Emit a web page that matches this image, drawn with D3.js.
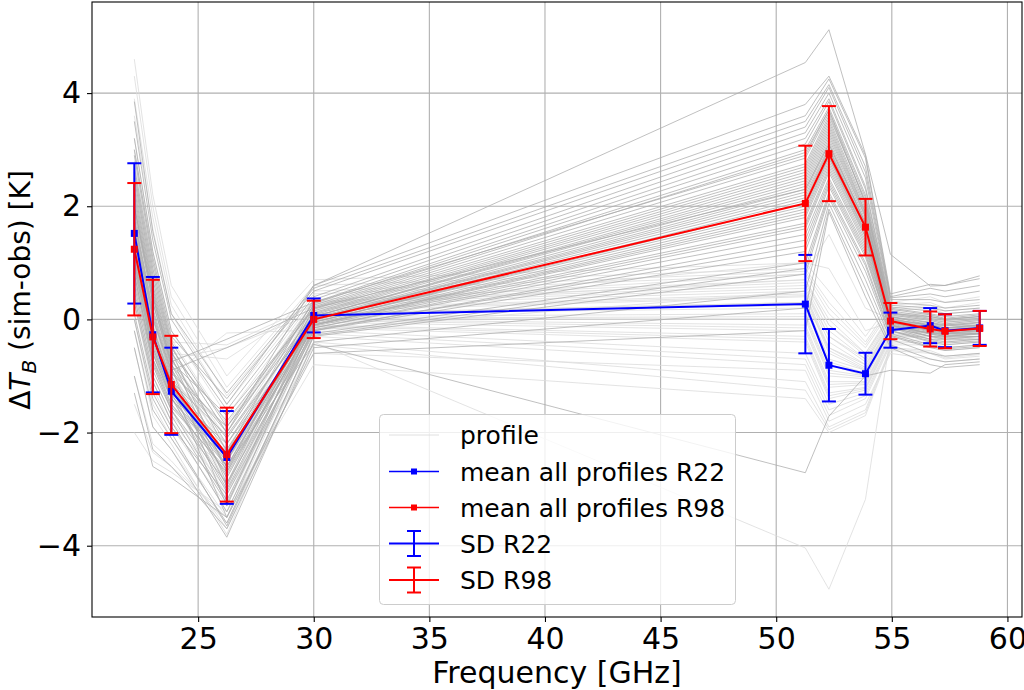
<!DOCTYPE html>
<html>
<head>
<meta charset="utf-8">
<script src="https://cdn.jsdelivr.net/npm/d3@7"></script>
<style>
    body { margin: 0; background: #fff; }
    text { font-family: "DejaVu Sans", sans-serif; }
</style>
</head>
<body>
<div id="chart"></div>
<script>
// channel frequencies [GHz]
let freqs = [22.24, 23.04, 23.84, 26.24, 30.0, 51.26, 52.28, 53.86, 54.94, 56.66, 57.3, 58.8];

// mean and SD of all profiles
let meanR22 = [1.52, -0.27, -1.27, -2.44, 0.07, 0.27, -0.81, -0.96, -0.19, -0.11, -0.2, -0.15];
let sdR22 = [1.24, 1.02, 0.77, 0.82, 0.3, 0.87, 0.64, 0.37, 0.31, 0.31, 0.29, 0.3];
let meanR98 = [1.24, -0.31, -1.15, -2.39, 0.0, 2.05, 2.93, 1.63, -0.03, -0.17, -0.21, -0.16];
let sdR98 = [1.17, 1.01, 0.86, 0.83, 0.33, 1.02, 0.84, 0.5, 0.32, 0.31, 0.3, 0.31];

// single profiles, R22 (light grey)
let profilesR22 = [
    [4.6, 2.2, 0.6, -1.0, 0.7, 1.0, 0.5, -0.3, 0.3, 0.4, 0.3, 0.4],
    [4.3, 2.0, 0.4, -1.2, 0.6, 0.9, 0.3, -0.4, 0.25, 0.3, 0.2, 0.3],
    [3.9, 1.8, 0.25, -1.35, 0.5, 0.85, 0.2, -0.45, 0.2, 0.25, 0.15, 0.2],
    [3.6, 1.6, 0.1, -1.5, 0.45, 0.8, 0.1, -0.5, 0.15, 0.2, 0.1, 0.15],
    [3.2, 1.2, -0.2, -1.7, 0.35, 0.7, 0.0, -0.6, 0.1, 0.1, 0.0, 0.05],
    [3.0, 1.05, -0.35, -1.85, 0.32, 0.65, -0.1, -0.65, 0.08, 0.08, -0.02, 0.02],
    [2.8, 0.9, -0.5, -2.0, 0.3, 0.6, -0.2, -0.7, 0.05, 0.05, -0.05, 0.0],
    [2.65, 0.8, -0.6, -2.45, 0.28, 0.55, -0.3, -0.75, 0.02, 0.02, -0.08, -0.02],
    [2.5, 0.7, -0.7, -2.1, 0.25, 0.5, -0.4, -0.8, 0.0, 0.0, -0.1, -0.05],
    [2.3, 0.5, -0.8, -2.3, 0.2, 0.45, -0.5, -0.85, -0.05, -0.05, -0.15, -0.1],
    [2.15, 0.4, -0.85, -2.95, 0.18, 0.42, -0.55, -0.88, -0.08, -0.05, -0.15, -0.1],
    [2.0, 0.3, -0.9, -2.6, 0.15, 0.4, -0.6, -0.9, -0.1, -0.05, -0.15, -0.1],
    [1.8, 0.1, -1.0, -2.2, 0.1, 0.3, -0.7, -0.9, -0.15, -0.1, -0.2, -0.15],
    [1.7, 0.0, -1.1, -2.65, 0.12, 0.25, -0.75, -0.95, -0.12, -0.08, -0.18, -0.12],
    [1.6, -0.1, -1.2, -2.8, 0.1, 0.2, -0.8, -1.0, -0.15, -0.1, -0.2, -0.15],
    [1.4, -0.3, -1.3, -2.4, 0.05, 0.1, -0.9, -1.0, -0.2, -0.15, -0.25, -0.2],
    [1.3, -0.4, -1.35, -3.2, 0.02, 0.05, -0.95, -1.02, -0.2, -0.15, -0.25, -0.2],
    [1.2, -0.5, -1.4, -2.9, 0.0, 0.0, -1.0, -1.05, -0.2, -0.15, -0.25, -0.2],
    [1.0, -0.6, -1.5, -2.5, 0.0, -0.1, -1.1, -1.1, -0.25, -0.2, -0.3, -0.25],
    [0.9, -0.7, -1.55, -2.35, -0.02, -0.15, -1.15, -1.12, -0.28, -0.2, -0.3, -0.25],
    [0.8, -0.8, -1.6, -3.1, -0.05, -0.2, -1.2, -1.15, -0.3, -0.2, -0.3, -0.25],
    [0.6, -1.0, -1.7, -2.7, -0.1, -0.3, -1.3, -1.2, -0.3, -0.25, -0.35, -0.3],
    [0.45, -1.1, -1.8, -3.4, -0.12, -0.35, -1.35, -1.22, -0.32, -0.28, -0.38, -0.32],
    [0.3, -1.2, -1.9, -3.3, -0.15, -0.4, -1.4, -1.25, -0.35, -0.3, -0.4, -0.35],
    [0.0, -1.5, -2.1, -3.5, -0.2, -0.6, -1.5, -1.3, -0.4, -0.35, -0.45, -0.4],
    [-0.2, -1.7, -2.2, -3.8, -0.25, -0.7, -1.6, -1.35, -0.42, -0.4, -0.5, -0.45],
    [-0.5, -1.9, -2.3, -3.7, -0.3, -0.8, -1.7, -1.4, -0.45, -0.45, -0.55, -0.5],
    [-1.0, -2.2, -2.5, -3.6, -0.4, -1.1, -1.9, -1.6, -0.5, -0.55, -0.65, -0.6],
    [-1.5, -2.35, -2.6, -3.5, -0.45, -1.25, -1.95, -1.65, -0.52, -0.58, -0.68, -0.62],
    [-2.0, -2.5, -2.7, -3.4, -0.8, -1.4, -2.0, -1.7, -0.55, -0.6, -0.7, -0.65],
    [1.5, -0.2, -1.2, -2.5, -0.4, -4.04, -4.77, -3.18, -0.3, -0.3, -0.35, -0.3],
    [1.0, -0.2, -1.0, -0.24, -0.19, 0.5, -0.3, -0.7, -0.1, -0.05, -0.1, -0.1],
    [0.6, -0.4, -0.7, -0.5, 0.1, 0.3, -0.5, -0.8, -0.15, -0.1, -0.15, -0.1],
    [2.6, 0.6, -0.4, -0.45, 0.25, 0.7, -0.1, -0.6, 0.05, 0.05, 0.0, 0.05],
    [2.2, 0.3, -0.6, -0.7, 0.3, 0.8, 1.5, 0.2, 0.0, 0.0, -0.05, 0.0],
    [1.9, 0.0, -1.1, -1.9, 0.2, 1.0, 0.9, -0.2, -0.05, -0.1, -0.1, -0.05],
    [0.4, -1.1, -1.8, -3.0, -0.6, -0.9, -1.8, -1.5, -0.6, -0.7, -0.75, -0.7]
];

// single profiles, R98 (dark grey)
let profilesR98 = [
    [3.85, 1.55, 0.1, -1.3, 0.55, 3.6, 4.25, 2.85, 0.4, 0.55, 0.5, 0.6],
    [3.5, 1.4, 0.0, -1.5, 0.6, 3.8, 4.3, 2.9, 0.45, 0.62, 0.6, 0.72],
    [3.2, 1.2, -0.2, -1.6, 0.4, 3.4, 4.1, 2.6, 0.35, 0.35, 0.3, 0.35],
    [3.0, 1.1, -0.3, -1.4, 0.5, 3.5, 4.15, 2.7, 0.38, 0.45, 0.4, 0.5],
    [2.9, 1.0, -0.4, -1.9, 0.3, 3.2, 3.9, 2.35, 0.25, 0.2, 0.15, 0.2],
    [2.7, 0.9, -0.45, -2.35, 0.35, 3.3, 4.0, 2.5, 0.3, 0.25, 0.2, 0.25],
    [2.6, 0.8, -0.5, -2.0, 0.25, 3.0, 3.75, 2.2, 0.2, 0.1, 0.05, 0.1],
    [2.5, 0.7, -0.55, -2.7, 0.28, 3.1, 3.85, 2.3, 0.22, 0.15, 0.1, 0.15],
    [2.4, 0.6, -0.6, -1.8, 0.2, 2.85, 3.65, 2.05, 0.15, 0.05, 0.0, 0.05],
    [2.3, 0.55, -0.65, -2.9, 0.22, 2.95, 3.7, 2.15, 0.18, 0.08, 0.02, 0.08],
    [2.2, 0.5, -0.7, -2.2, 0.15, 2.7, 3.55, 2.0, 0.1, 0.0, -0.05, 0.0],
    [2.1, 0.45, -0.75, -1.7, 0.18, 2.75, 3.6, 2.1, 0.12, 0.02, -0.02, 0.02],
    [2.0, 0.4, -0.8, -2.5, 0.1, 2.6, 3.45, 1.9, 0.05, -0.05, -0.1, -0.05],
    [2.0, 0.4, -0.75, -0.35, 0.3, 2.9, 3.7, 2.05, 0.1, 0.05, 0.0, 0.05],
    [1.9, 0.3, -0.85, -3.3, 0.12, 2.65, 3.5, 1.95, 0.08, -0.02, -0.08, -0.02],
    [1.8, 0.2, -0.9, -2.1, 0.05, 2.5, 3.35, 1.85, 0.05, -0.1, -0.1, -0.1],
    [1.75, 0.15, -0.95, -1.9, 0.08, 2.55, 3.4, 1.88, 0.04, -0.06, -0.12, -0.06],
    [1.7, 0.1, -1.0, -2.6, 0.05, 2.4, 3.25, 1.8, 0.0, -0.1, -0.15, -0.1],
    [1.6, 0.05, -1.05, -2.95, 0.05, 2.45, 3.3, 1.82, 0.02, -0.12, -0.16, -0.12],
    [1.6, 0.0, -0.9, -0.5, 0.2, 2.3, 3.1, 1.7, 0.0, -0.1, -0.15, -0.1],
    [1.5, -0.1, -1.1, -2.3, 0.0, 2.3, 3.15, 1.7, 0.0, -0.15, -0.2, -0.15],
    [1.45, -0.15, -1.1, -2.05, 0.02, 2.35, 3.2, 1.75, -0.02, -0.14, -0.18, -0.14],
    [1.4, -0.2, -1.1, -2.8, 0.0, 2.2, 3.05, 1.65, -0.05, -0.15, -0.2, -0.15],
    [1.35, -0.25, -1.15, -3.5, 0.0, 2.25, 3.1, 1.68, -0.04, -0.18, -0.22, -0.18],
    [1.3, -0.3, -1.2, -2.4, -0.05, 2.1, 3.0, 1.6, -0.05, -0.2, -0.2, -0.2],
    [1.25, -0.35, -1.2, -2.45, -0.02, 2.15, 3.02, 1.62, -0.06, -0.2, -0.24, -0.2],
    [1.2, -0.4, -1.2, -2.6, -0.05, 2.0, 2.9, 1.55, -0.05, -0.2, -0.25, -0.2],
    [1.15, -0.45, -1.25, -2.75, -0.05, 2.05, 2.95, 1.58, -0.08, -0.22, -0.26, -0.22],
    [1.1, -0.5, -1.3, -2.2, -0.1, 1.9, 2.85, 1.5, -0.1, -0.25, -0.25, -0.25],
    [1.05, -0.55, -1.35, -2.35, -0.08, 1.95, 2.88, 1.52, -0.1, -0.24, -0.28, -0.24],
    [1.0, -0.5, -1.3, -3.0, -0.1, 1.8, 2.75, 1.45, -0.1, -0.25, -0.3, -0.25],
    [0.95, -0.6, -1.38, -3.05, -0.1, 1.85, 2.8, 1.47, -0.12, -0.26, -0.3, -0.26],
    [0.9, -0.6, -1.4, -2.5, -0.1, 1.7, 2.7, 1.4, -0.1, -0.3, -0.3, -0.3],
    [0.8, -0.7, -1.5, -2.7, -0.15, 1.6, 2.6, 1.3, -0.15, -0.3, -0.35, -0.3],
    [0.7, -0.75, -1.55, -2.65, -0.12, 1.65, 2.65, 1.35, -0.14, -0.3, -0.32, -0.3],
    [0.6, -0.8, -1.6, -3.2, -0.15, 1.5, 2.5, 1.25, -0.15, -0.35, -0.35, -0.35],
    [0.5, -0.9, -1.6, -2.9, -0.2, 1.4, 2.45, 1.2, -0.2, -0.35, -0.4, -0.35],
    [0.4, -1.0, -1.7, -3.25, -0.18, 1.3, 2.4, 1.15, -0.2, -0.38, -0.42, -0.38],
    [0.3, -1.1, -1.8, -3.4, -0.2, 1.2, 2.35, 1.1, -0.2, -0.4, -0.45, -0.4],
    [0.1, -1.3, -1.9, -3.1, -0.25, 1.0, 2.25, 1.0, -0.25, -0.45, -0.5, -0.45],
    [0.0, -1.4, -2.0, -3.65, -0.28, 0.9, 2.2, 0.95, -0.28, -0.48, -0.52, -0.48],
    [-0.2, -1.6, -2.1, -3.6, -0.3, 0.8, 2.15, 0.85, -0.3, -0.5, -0.55, -0.5],
    [-0.5, -1.9, -2.3, -3.85, -0.4, 0.5, 2.05, 0.7, -0.35, -0.6, -0.65, -0.6],
    [-1.0, -2.3, -2.6, -3.7, -0.5, 0.2, 1.95, 0.55, -0.45, -0.7, -0.75, -0.7],
    [-1.3, -2.6, -2.8, -3.5, -0.6, -0.2, 1.9, 0.4, -0.5, -0.8, -0.85, -0.8],
    [2.0, 0.3, -0.8, -2.0, 0.6, 4.54, 5.12, 2.92, 1.15, 0.59, 0.6, 0.77],
    [0.8, -0.7, -1.4, -2.6, -0.44, -2.71, -1.71, -1.0, -0.9, -0.95, -0.8, -0.75]
];

let xTicks = [25, 30, 35, 40, 45, 50, 55, 60];
let yTicks = [-4, -2, 0, 2, 4];

let width = 1024;
let height = 690;
let plot = { left: 92, right: 1022, top: 2, bottom: 617 };

let svg = d3.select("#chart")
    .append("svg")
    .attr("width", width)
    .attr("height", height);

let x = d3.scaleLinear().domain([20.41, 60.63]).range([plot.left, plot.right]);
let y = d3.scaleLinear().domain([-5.26, 5.61]).range([plot.bottom, plot.top]);

// grid
svg.append("g")
    .selectAll("line")
    .data(xTicks)
    .enter()
    .append("line")
    .attr("x1", d => x(d)).attr("x2", d => x(d))
    .attr("y1", plot.top).attr("y2", plot.bottom)
    .attr("stroke", "#b0b0b0").attr("stroke-width", 1.1);
svg.append("g")
    .selectAll("line")
    .data(yTicks)
    .enter()
    .append("line")
    .attr("x1", plot.left).attr("x2", plot.right)
    .attr("y1", d => y(d)).attr("y2", d => y(d))
    .attr("stroke", "#b0b0b0").attr("stroke-width", 1.1);

let line = d3.line()
    .x((d, i) => x(freqs[i]))
    .y(d => y(d));

svg.append("clipPath").attr("id", "clip")
    .append("rect")
    .attr("x", plot.left).attr("y", plot.top)
    .attr("width", plot.right - plot.left).attr("height", plot.bottom - plot.top);

let area = svg.append("g").attr("clip-path", "url(#clip)");

// profiles
area.append("g")
    .selectAll("path")
    .data(profilesR22)
    .enter()
    .append("path")
    .attr("d", line)
    .attr("fill", "none")
    .attr("stroke", "#dcdcdc")
    .attr("stroke-width", 0.8);
area.append("g")
    .selectAll("path")
    .data(profilesR98)
    .enter()
    .append("path")
    .attr("d", line)
    .attr("fill", "none")
    .attr("stroke", "#ababab")
    .attr("stroke-width", 0.75);

// mean lines + error bars
function drawMean(mean, color) {
    let g = area.append("g");
    g.append("path")
        .attr("d", line(mean))
        .attr("fill", "none")
        .attr("stroke", color)
        .attr("stroke-width", 2);
    g.selectAll("rect")
        .data(mean)
        .enter()
        .append("rect")
        .attr("x", (d, i) => x(freqs[i]) - 3.5)
        .attr("y", d => y(d) - 3.5)
        .attr("width", 7).attr("height", 7)
        .attr("fill", color);
}
function drawErr(mean, sd, color) {
    let g = area.append("g")
        .attr("stroke", color)
        .attr("stroke-width", 2);
    let e = g.selectAll("g")
        .data(mean)
        .enter()
        .append("g");
    e.append("line")
        .attr("x1", (d, i) => x(freqs[i])).attr("x2", (d, i) => x(freqs[i]))
        .attr("y1", (d, i) => y(d - sd[i])).attr("y2", (d, i) => y(d + sd[i]));
    e.append("line")
        .attr("x1", (d, i) => x(freqs[i]) - 7).attr("x2", (d, i) => x(freqs[i]) + 7)
        .attr("y1", (d, i) => y(d + sd[i])).attr("y2", (d, i) => y(d + sd[i]));
    e.append("line")
        .attr("x1", (d, i) => x(freqs[i]) - 7).attr("x2", (d, i) => x(freqs[i]) + 7)
        .attr("y1", (d, i) => y(d - sd[i])).attr("y2", (d, i) => y(d - sd[i]));
}
drawMean(meanR22, "#0000ff");
drawMean(meanR98, "#ff0000");
drawErr(meanR22, sdR22, "#0000ff");
drawErr(meanR98, sdR98, "#ff0000");

// axes
let xAxis = svg.append("g")
    .attr("transform", "translate(0," + plot.bottom + ")")
    .call(d3.axisBottom(x).tickValues(xTicks).tickSize(5).tickPadding(6));
let yAxis = svg.append("g")
    .attr("transform", "translate(" + plot.left + ",0)")
    .call(d3.axisLeft(y).tickValues(yTicks).tickSize(5).tickPadding(6)
        .tickFormat(d => d < 0 ? "\u2212" + Math.abs(d) : d));
[xAxis, yAxis].forEach(a => {
    a.select(".domain").remove();
    a.selectAll("text").attr("font-size", "30px").attr("fill", "#000")
        .attr("font-family", "DejaVu Sans");
    a.selectAll("line").attr("stroke", "#000").attr("stroke-width", 1.1);
});

// frame
svg.append("rect")
    .attr("x", plot.left).attr("y", plot.top)
    .attr("width", plot.right - plot.left).attr("height", plot.bottom - plot.top)
    .attr("fill", "none").attr("stroke", "#000").attr("stroke-width", 1.1);

// axis labels
svg.append("text")
    .attr("x", (plot.left + plot.right) / 2)
    .attr("y", 683)
    .attr("text-anchor", "middle")
    .attr("font-size", "30px")
    .text("Frequency [GHz]");

let yl = svg.append("text")
    .attr("transform", "translate(30,290) rotate(-90)")
    .attr("text-anchor", "middle")
    .attr("font-size", "28px");
yl.append("tspan").text("\u0394");
yl.append("tspan").attr("font-style", "italic").text("T");
yl.append("tspan").attr("font-size", "20px").attr("font-style", "italic").attr("dy", 6).text("B");
yl.append("tspan").attr("dy", -6).text(" (sim-obs) [K]");

// legend
let leg = svg.append("g");
leg.append("rect")
    .attr("x", 379.5).attr("y", 414.5)
    .attr("width", 356).attr("height", 190)
    .attr("rx", 4)
    .attr("fill", "#fff").attr("fill-opacity", 0.8)
    .attr("stroke", "#cccccc");

let legItems = [
    { label: "profile", color: "#dcdcdc", kind: "line" },
    { label: "mean all profiles R22", color: "#0000ff", kind: "mean" },
    { label: "mean all profiles R98", color: "#ff0000", kind: "mean" },
    { label: "SD R22", color: "#0000ff", kind: "err" },
    { label: "SD R98", color: "#ff0000", kind: "err" }
];
let rowY = [435, 471.5, 507.5, 543.5, 580];
legItems.forEach((d, i) => {
    let cy = rowY[i];
    let row = leg.append("g");
    row.append("line")
        .attr("x1", 389).attr("x2", 439)
        .attr("y1", cy).attr("y2", cy)
        .attr("stroke", d.color)
        .attr("stroke-width", d.kind == "line" ? 0.9 : (d.kind == "mean" ? 1.6 : 2));
    if (d.kind == "mean") {
        row.append("rect")
            .attr("x", 411).attr("y", cy - 3)
            .attr("width", 6).attr("height", 6)
            .attr("fill", d.color);
    }
    if (d.kind == "err") {
        row.append("line").attr("x1", 414).attr("x2", 414)
            .attr("y1", cy - 12.5).attr("y2", cy + 12.5)
            .attr("stroke", d.color).attr("stroke-width", 2);
        row.append("line").attr("x1", 407).attr("x2", 421)
            .attr("y1", cy - 12.5).attr("y2", cy - 12.5)
            .attr("stroke", d.color).attr("stroke-width", 2);
        row.append("line").attr("x1", 407).attr("x2", 421)
            .attr("y1", cy + 12.5).attr("y2", cy + 12.5)
            .attr("stroke", d.color).attr("stroke-width", 2);
    }
    row.append("text")
        .attr("x", 460).attr("y", cy + 9)
        .attr("font-size", "25px")
        .text(d.label);
});
</script>
</body>
</html>
